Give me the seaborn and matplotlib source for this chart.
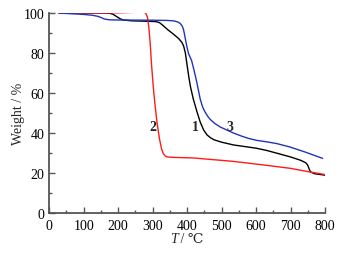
import matplotlib
matplotlib.use("Agg")
import matplotlib.pyplot as plt
import seaborn as sns
import pandas as pd
from matplotlib.ticker import MultipleLocator

sns.set_theme(style="ticks")
plt.rcParams['font.family'] = ['Liberation Serif', 'DejaVu Serif']

t1 = [30, 150, 175, 185, 195, 205, 215, 240, 280, 310, 320, 330, 345, 360, 375, 385, 390, 395, 400, 405, 410, 418, 428, 438, 448, 458, 468, 478, 500, 535, 600, 630, 660, 700, 730, 745, 750, 754, 758, 770, 800]
w1 = [100, 100, 99.9, 99.4, 98.3, 97.2, 96.5, 96.1, 95.9, 95.7, 95.2, 93.8, 91.5, 89.5, 87.3, 85.3, 83.5, 80, 74, 68, 63, 57, 51, 45.5, 41.5, 39, 37.6, 36.6, 35.4, 34, 32.4, 31.3, 29.9, 28, 26.3, 25, 23.8, 22, 20.5, 19.6, 18.9]
t2 = [30, 200, 260, 273, 280, 285, 289, 293, 297, 302, 307, 313, 320, 326, 331, 336, 342, 360, 418, 534, 631, 700, 756, 800]
w2 = [100, 100.1, 100.4, 100.5, 100, 98, 93, 85, 74, 63, 54, 45, 37, 32, 29.7, 28.6, 28, 27.8, 27.5, 25.8, 23.8, 22.3, 20.5, 19.2]
t3 = [27, 100, 125, 140, 150, 160, 175, 200, 300, 341, 360, 372, 380, 386, 390, 394, 399, 404, 413, 420, 428, 438, 445, 452, 460, 467, 480, 496, 515, 534, 560, 580, 602, 630, 660, 698, 740, 793]
w3 = [100, 99.3, 98.9, 98.4, 97.8, 97, 96.6, 96.5, 96.4, 96.3, 96.1, 95.6, 94.8, 93.5, 91.5, 88, 83.5, 79.8, 76.3, 71.5, 65.5, 57, 53, 50.5, 48.3, 46.8, 44.8, 43, 41.5, 40, 38.3, 37.2, 36.3, 35.6, 34.7, 33, 30.6, 27.3]

labels = ["1", "2", "3"]
label_x = [423, 300, 524]
label_y = [43.3, 43.3, 43.3]
colors = ["black", "#ff1a1a", "#2233bb"]

df = pd.concat([
    pd.DataFrame({"T": t1, "W": w1, "s": "1"}),
    pd.DataFrame({"T": t2, "W": w2, "s": "2"}),
    pd.DataFrame({"T": t3, "W": w3, "s": "3"}),
])

fig = plt.figure(figsize=(3.51, 2.55), dpi=100)
ax = fig.add_axes([0.14, 0.161, 0.786, 0.784])
sns.lineplot(data=df, x="T", y="W", hue="s", palette=dict(zip(labels, colors)),
             linewidth=1.0, legend=False, ax=ax, sort=False)

for lab, x, y in zip(labels, label_x, label_y):
    ax.text(x, y, lab, fontsize=10, fontweight='bold', ha='center', va='center')

ax.set_xlim(0, 800)
ax.set_ylim(0, 100)
ax.xaxis.set_major_locator(MultipleLocator(100))
ax.xaxis.set_minor_locator(MultipleLocator(50))
ax.yaxis.set_major_locator(MultipleLocator(20))
ax.yaxis.set_minor_locator(MultipleLocator(10))
ax.tick_params(which='both', direction='in', labelsize=10, colors='#555555', labelcolor='black')
ax.tick_params(which='major', length=4, width=1)
ax.tick_params(which='minor', length=2.5, width=1)
ax.tick_params(axis='x', pad=4)
for s in ['top', 'right']:
    ax.spines[s].set_visible(False)
for s in ['left', 'bottom']:
    ax.spines[s].set_color('#555555')
    ax.spines[s].set_linewidth(1.3)
ax.set_xlabel("")
ax.set_ylabel("Weight / %", fontsize=10, labelpad=-1)
ax.text(0.465, -0.13, "T", transform=ax.transAxes, fontsize=10, style='italic',
        ha='right', va='center')
ax.text(0.465, -0.13, " / ℃", transform=ax.transAxes, fontsize=10,
        ha='left', va='center')
fig.savefig("out.png", dpi=100)
